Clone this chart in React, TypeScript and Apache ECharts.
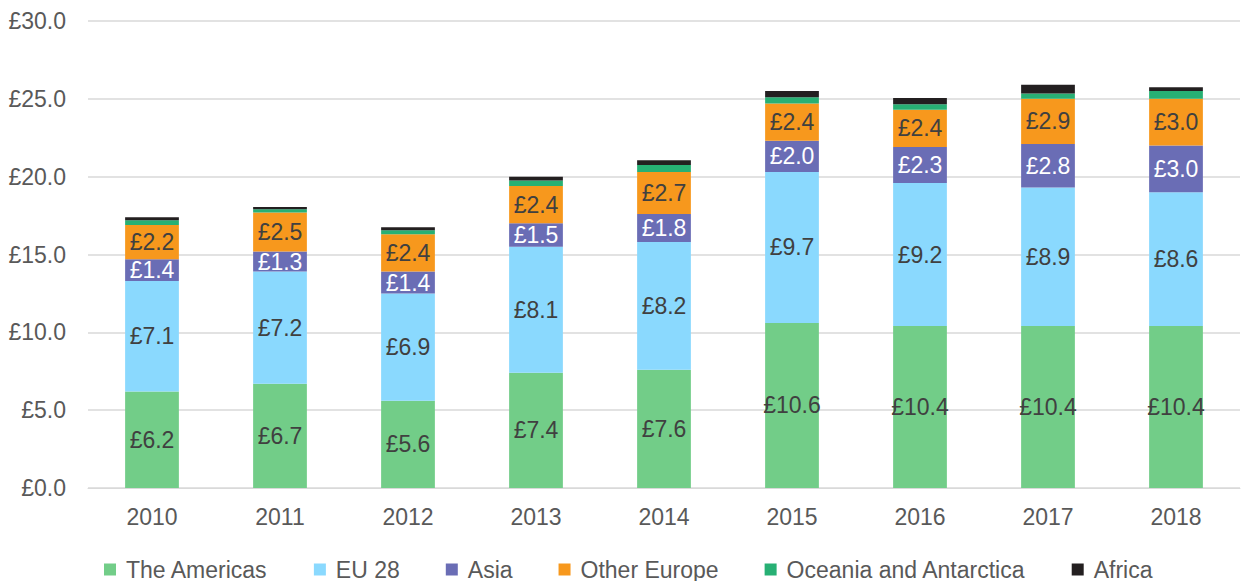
import React, { useEffect, useRef } from "react";
import * as echarts from "echarts";

const years = ["2010", "2011", "2012", "2013", "2014", "2015", "2016", "2017", "2018"];
const americas = [6.2, 6.7, 5.6, 7.4, 7.6, 10.6, 10.4, 10.4, 10.4];
const eu28 = [7.1, 7.2, 6.9, 8.1, 8.2, 9.7, 9.2, 8.9, 8.6];
const asia = [1.4, 1.3, 1.4, 1.5, 1.8, 2.0, 2.3, 2.8, 3.0];
const otherEurope = [2.2, 2.5, 2.4, 2.4, 2.7, 2.4, 2.4, 2.9, 3.0];
const oceania = [0.3, 0.2, 0.25, 0.35, 0.45, 0.4, 0.35, 0.35, 0.5];
const africa = [0.2, 0.15, 0.2, 0.25, 0.3, 0.4, 0.4, 0.55, 0.25];

const FONT = "Liberation Sans, Arial, sans-serif";

export default function App() {
  const ref = useRef<HTMLDivElement>(null);
  useEffect(() => {
    document.body.style.margin = "0";
    const chart = echarts.init(ref.current!, undefined, { renderer: "svg" });
    const mk = (name: string, data: number[], color: string, label: boolean, labelColor: string) => ({
      name,
      type: "bar",
      stack: "total",
      data,
      barWidth: "42%",
      itemStyle: { color },
      label: {
        show: label,
        position: "inside",
        formatter: (p: any) => "£" + Number(p.value).toFixed(1),
        color: labelColor,
        fontSize: 23,
        fontFamily: FONT,
      },
    });
    chart.setOption({
      animation: false,
      textStyle: { fontFamily: FONT },
      grid: { left: 88, right: 5, top: 21, bottom: 93, containLabel: false },
      legend: {
        top: 558,
        left: 104,
        padding: 0,
        itemWidth: 12,
        itemHeight: 12,
        itemGap: 46,
        icon: "rect",
        textStyle: { fontSize: 23, lineHeight: 20, color: "#595959", fontFamily: FONT, padding: [0, 0, 0, 5] },
      },
      xAxis: {
        type: "category",
        data: years,
        axisLine: { lineStyle: { color: "#d9d9d9" } },
        axisTick: { show: false },
        axisLabel: { fontSize: 23, color: "#595959", margin: 17, fontFamily: FONT },
      },
      yAxis: {
        type: "value",
        min: 0,
        max: 30,
        interval: 5,
        axisLabel: {
          fontSize: 23,
          color: "#595959",
          margin: 22,
          fontFamily: FONT,
          formatter: (v: number) => "£" + v.toFixed(1),
        },
        splitLine: { lineStyle: { color: "#d9d9d9", width: 1.5 } },
      },
      series: [
        mk("The Americas", americas, "#72cd88", true, "#404040"),
        mk("EU 28", eu28, "#8ad9fe", true, "#404040"),
        mk("Asia", asia, "#6a6db5", true, "#ffffff"),
        mk("Other Europe", otherEurope, "#f7981d", true, "#404040"),
        mk("Oceania and Antarctica", oceania, "#27b074", false, "#404040"),
        mk("Africa", africa, "#231f20", false, "#404040"),
      ],
    });
    return () => chart.dispose();
  }, []);
  return <div ref={ref} style={{ width: 1245, height: 581 }} />;
}
